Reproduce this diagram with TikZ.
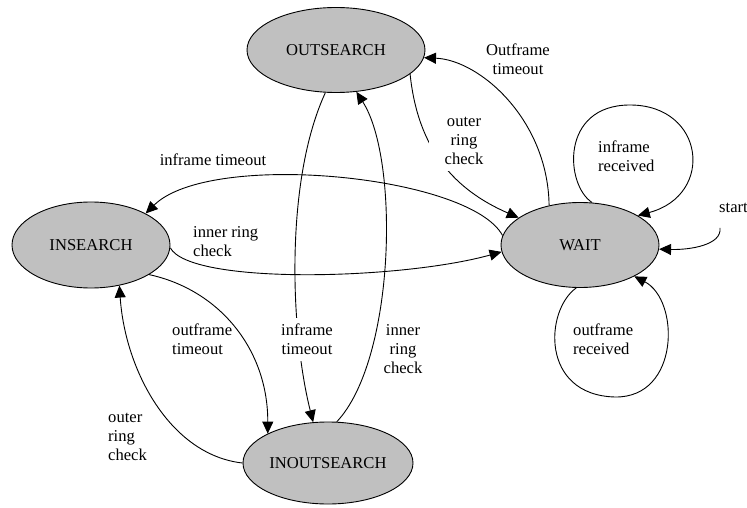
\documentclass[tikz,border=0pt]{standalone}
\usepackage{fontspec}
\setmainfont{Liberation Serif}
\usetikzlibrary{shapes.geometric,arrows.meta}
\definecolor{stategray}{RGB}{192,192,192}
\begin{document}
\begin{tikzpicture}[x=1pt,y=-1pt,font=\fontsize{16.6}{19}\selectfont,
  state/.style={ellipse,draw,fill=stategray,line width=0.9pt,inner sep=0pt,minimum width=158pt,minimum height=85pt},
  trans/.style={line width=0.9pt,-{Triangle[length=12pt,width=11pt]}},
  lbl/.style={align=center,inner sep=0pt},
  lbll/.style={align=left,anchor=west,inner sep=0pt},
  gap/.style={fill=white,inner xsep=3pt,inner ysep=6pt}]
\useasboundingbox (0,0) rectangle (747,508);
\node[state,minimum width=178pt] (outsearch) at (336,50) {OUTSEARCH};
\node[state,minimum height=86pt] (insearch) at (91,245) {INSEARCH};
\node[state] (wait) at (580,245) {WAIT};
\node[state,minimum width=170pt,minimum height=82pt] (inoutsearch) at (328,463) {INOUTSEARCH};
\node[anchor=west,inner sep=0pt] (start) at (719,208) {start};
\draw[trans] (outsearch.-18) .. controls (418,150) and (455,190) .. (wait.156);
\draw[trans] (wait.128) .. controls (548,120) and (480,60) .. (outsearch.-5);
\draw[trans] (wait.74) .. controls (565,185) and (560,105) .. (630,105) .. controls (705,105) and (715,195) .. (wait.27);
\draw[trans] (wait.-95) .. controls (545,310) and (540,395) .. (615,397) .. controls (680,398) and (680,300) .. (wait.-30);
\draw[trans] ([xshift=1pt,yshift=-15pt]start.south west) .. controls (722,245) and (690,250) .. (wait.-3);
\draw[trans] (insearch.-2) .. controls (190,285) and (400,280) .. (wait.185);
\draw[trans] (wait.173) .. controls (470,175) and (210,150) .. (insearch.30);
\draw[trans] (outsearch.-104) .. controls (285,180) and (290,330) .. (inoutsearch.110);
\draw[trans] (inoutsearch.78) .. controls (395,360) and (400,160) .. (outsearch.-64);
\draw[trans] (insearch.-27) .. controls (220,290) and (268,350) .. (inoutsearch.154);
\draw[trans] (inoutsearch.180) .. controls (170,455) and (125,370) .. (insearch.-55);
\node[lbl,gap,inner xsep=16pt] (outerring-a) at (464,141) {outer\\ring\\check};
\node[lbl] (outframe-to) at (518,59) {Outframe\\timeout};
\node[lbll] (inframe-rx) at (598,156.5) {inframe\\received};
\node[lbll] (outframe-rx) at (573,339) {outframe\\received};
\node[lbll] (innerring-a) at (193,242) {inner ring\\check};
\node[lbl] (inframe-to-a) at (213,160) {inframe timeout};
\node[lbl,gap] (inframe-to-b) at (307,339.5) {inframe\\timeout};
\node[lbl] (innerring-b) at (403,349) {inner\\ring\\check};
\node[lbll] (outframe-tob) at (172,339) {outframe\\timeout};
\node[lbll] (outerring-b) at (108,437) {outer\\ring\\check};
\end{tikzpicture}
\end{document}
